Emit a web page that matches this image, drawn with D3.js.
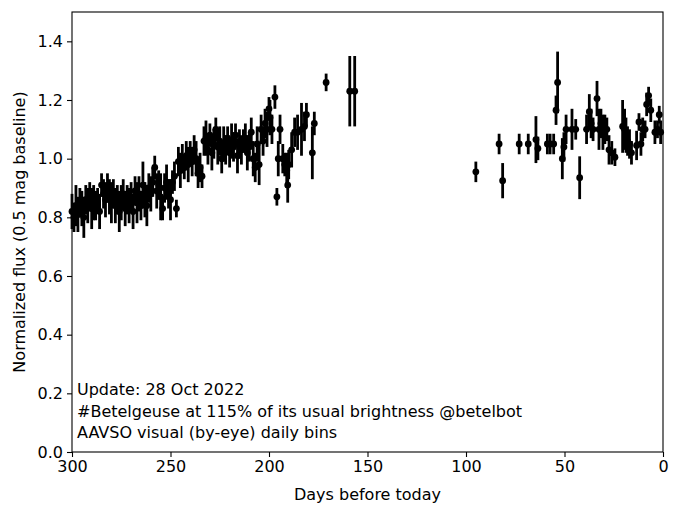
<!DOCTYPE html>
<html>
<head>
<meta charset="utf-8">
<script src="https://cdn.jsdelivr.net/npm/d3@7"></script>
<style>
  html, body { margin: 0; padding: 0; background: #fff; }
  svg { display: block; }
  text { font-family: "DejaVu Sans", sans-serif; }
</style>
</head>
<body>
<svg id="chart" width="680" height="515"></svg>
<script>
// ---- data: days before today, normalized flux, error ----
const days = [
  300,299,298,297,296,295,294,293,292,291,290,289,288,287,286,285,284,283,282,281,
  280,279,278,277,276,275,274,273,272,271,270,269,268,267,266,265,264,263,262,261,
  260,259,258,257,256,255,254,253,252,251,250,249,248,247,246,245,244,243,242,241,
  240,239,238,237,236,235,234,233,232,231,230,229,228,227,226,225,224,223,222,221,
  220,219,218,217,216,215,214,213,212,211,210,209,208,207,206,205,204,203,202,201,
  200,199.5,198.5,197,196,195.3,194.4,193,192,191,190.5,190,188.5,187,185.5,183.5,182,181,178,177,
  171,159,156.5,
  95,83.2,81.4,73,68.4,64.5,63.5,58.7,57.3,55.5,54.3,53.5,51.1,50.3,49.2,46.2,44.3,42.3,
  38.8,37.4,36.5,35.5,33.5,32.5,31.5,30.5,29.5,28.5,27.4,26,24.4,
  20.5,19.5,18.8,18,17,16,13.4,12.2,11.2,10.3,9.1,8.3,7.3,6.2,4.1,2.8,1.9,1.2
];
const flux = [
  0.82,0.80,0.84,0.81,0.85,0.83,0.80,0.86,0.84,0.87,0.83,0.85,0.84,0.86,0.82,0.91,0.88,0.86,0.90,0.87,
  0.85,0.88,0.84,0.86,0.82,0.85,0.88,0.83,0.86,0.84,0.87,0.82,0.89,0.85,0.88,0.84,0.91,0.86,0.84,0.90,
  0.88,0.92,0.97,0.89,0.91,0.87,0.83,0.90,0.92,0.88,0.86,0.92,0.94,0.83,0.99,0.96,1.00,0.97,1.01,0.98,
  1.02,0.99,1.03,1.00,0.95,0.97,0.94,1.06,1.07,1.03,1.08,1.02,1.05,1.10,1.04,1.06,1.00,1.05,1.03,1.07,
  1.02,1.06,1.04,1.08,1.01,1.05,1.03,1.06,1.07,1.02,1.04,1.09,1.00,0.97,1.05,0.98,1.10,1.06,1.12,1.10,
  1.17,1.14,1.10,1.21,0.87,1.00,1.10,1.00,0.98,0.96,0.91,0.98,1.03,1.09,1.09,1.10,1.11,1.15,1.02,1.12,
  1.26,1.23,1.23,
  0.955,1.05,0.925,1.05,1.05,1.065,1.035,1.05,1.05,1.05,1.165,1.26,1.00,1.04,1.10,1.10,1.10,0.935,
  1.10,1.16,1.12,1.10,1.205,1.10,1.12,1.09,1.10,1.10,1.03,1.02,1.005,
  1.11,1.10,1.08,1.06,1.05,1.02,1.045,1.125,1.05,1.10,1.10,1.185,1.215,1.165,1.09,1.10,1.15,1.09
];
const err = [
  0.06,0.05,0.07,0.06,0.05,0.06,0.07,0.05,0.06,0.05,0.07,0.06,0.05,0.04,0.06,0.04,0.05,0.06,0.05,0.06,
  0.07,0.05,0.06,0.05,0.07,0.06,0.05,0.06,0.05,0.06,0.05,0.06,0.05,0.07,0.06,0.05,0.08,0.06,0.07,0.05,
  0.06,0.05,0.04,0.06,0.05,0.08,0.04,0.05,0.06,0.05,0.07,0.04,0.05,0.03,0.05,0.06,0.05,0.04,0.05,0.06,
  0.04,0.05,0.05,0.06,0.05,0.05,0.04,0.05,0.06,0.05,0.04,0.06,0.05,0.04,0.06,0.05,0.05,0.06,0.05,0.04,
  0.05,0.06,0.05,0.04,0.06,0.05,0.05,0.04,0.05,0.06,0.05,0.05,0.06,0.05,0.06,0.07,0.05,0.05,0.05,0.06,
  0.04,0.06,0.05,0.04,0.03,0.06,0.05,0.05,0.04,0.06,0.06,0.05,0.06,0.05,0.06,0.09,0.05,0.04,0.09,0.04,
  0.03,0.12,0.12,
  0.035,0.035,0.06,0.035,0.035,0.08,0.04,0.035,0.035,0.035,0.05,0.105,0.07,0.05,0.05,0.07,0.035,0.073,
  0.05,0.06,0.05,0.04,0.06,0.07,0.05,0.06,0.05,0.04,0.05,0.04,0.03,
  0.09,0.07,0.06,0.05,0.05,0.04,0.05,0.03,0.04,0.04,0.03,0.04,0.03,0.04,0.04,0.03,0.03,0.04
];
const xTicks = [300, 250, 200, 150, 100, 50, 0];
const yTicks = [0.0, 0.2, 0.4, 0.6, 0.8, 1.0, 1.2, 1.4];
const annotation = [
  "Update: 28 Oct 2022",
  "#Betelgeuse at 115% of its usual brightness @betelbot",
  "AAVSO visual (by-eye) daily bins"
];

(function () {
const points = days.map((d, i) => ({d, f: flux[i], e: err[i]}));

const mL = 72, mR = 663, mT = 12, mB = 452;
const svg = d3.select("#chart");
const x = d3.scaleLinear().domain([300, 0]).range([mL, mR]);
const y = d3.scaleLinear().domain([0, 1.5]).range([mB, mT]);

const fs = "16px";

const xAxis = svg.append("g").attr("transform", `translate(0,${mB})`)
  .call(d3.axisBottom(x).tickValues(xTicks).tickFormat(d3.format("d")).tickSize(5).tickPadding(4));
const yAxis = svg.append("g").attr("transform", `translate(${mL},0)`)
  .call(d3.axisLeft(y).tickValues(yTicks).tickFormat(d3.format(".1f")).tickSize(5).tickPadding(4));
[xAxis, yAxis].forEach(g => {
  g.select(".domain").remove();
  g.selectAll("line").attr("stroke", "#000").attr("stroke-width", 1.1);
  g.selectAll("text").attr("font-family", "DejaVu Sans").attr("font-size", fs).attr("fill", "#000");
});

svg.append("rect").attr("x", mL).attr("y", mT)
  .attr("width", mR - mL).attr("height", mB - mT)
  .attr("fill", "none").attr("stroke", "#000").attr("stroke-width", 1.1);

const g = svg.append("g");
g.selectAll("line.err").data(points).join("line")
  .attr("class", "err")
  .attr("x1", p => x(p.d)).attr("x2", p => x(p.d))
  .attr("y1", p => y(p.f - p.e)).attr("y2", p => y(p.f + p.e))
  .attr("stroke", "#000").attr("stroke-width", 2.8);
g.selectAll("circle").data(points).join("circle")
  .attr("cx", p => x(p.d)).attr("cy", p => y(p.f)).attr("r", 3.4)
  .attr("fill", "#000");

svg.append("text").attr("x", (mL + mR) / 2).attr("y", 500)
  .attr("text-anchor", "middle").attr("font-size", fs).text("Days before today");
svg.append("text").attr("transform", `translate(25,${(mT + mB) / 2}) rotate(-90)`)
  .attr("text-anchor", "middle").attr("font-size", fs).text("Normalized flux (0.5 mag baseline)");

annotation.forEach((t, i) => {
  svg.append("text").attr("x", 77).attr("y", 395 + i * 21.5)
    .attr("font-size", fs).attr("fill", "#000").text(t);
});
})();
</script>
</body>
</html>
